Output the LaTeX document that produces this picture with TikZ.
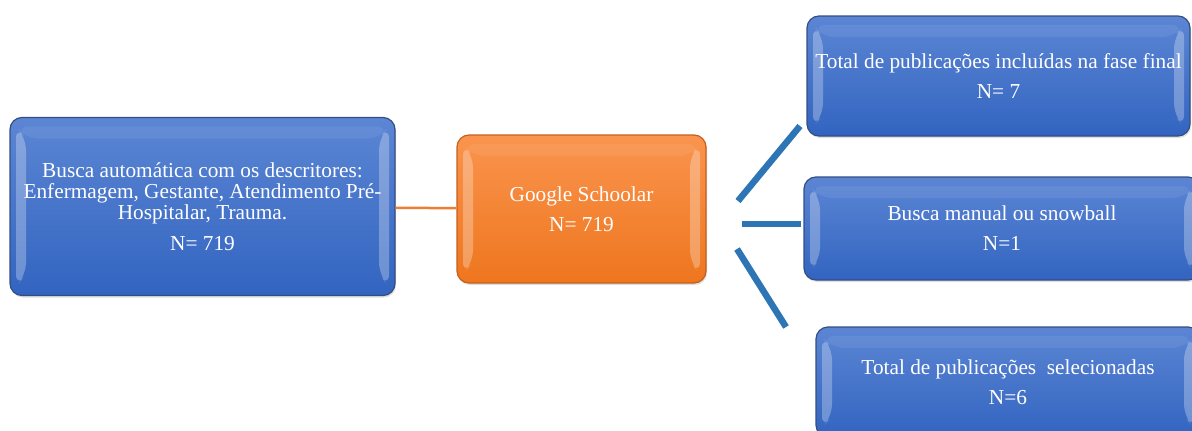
\documentclass[tikz,border=0pt]{standalone}
\usepackage{fontspec}
\setmainfont{Liberation Serif}
\usetikzlibrary{shadows}
\definecolor{boxtop}{RGB}{92,134,212}
\definecolor{boxbot}{RGB}{50,100,192}
\definecolor{boxedge}{RGB}{52,78,130}
\definecolor{ortop}{RGB}{250,148,78}
\definecolor{orbot}{RGB}{238,118,30}
\definecolor{oredge}{RGB}{196,96,30}
\definecolor{linkblue}{RGB}{46,117,182}
\definecolor{linkorange}{RGB}{237,125,49}
\tikzset{
  bevel/.style={path picture={
    \fill[white,opacity=0.28] ([xshift=6pt,yshift=-9pt]path picture bounding box.north west) -- ++(10pt,-12pt)
      -- ([xshift=16pt,yshift=21pt]path picture bounding box.south west) -- ++(-10pt,-12pt) -- cycle;
    \fill[white,opacity=0.28] ([xshift=-6pt,yshift=-9pt]path picture bounding box.north east) -- ++(-10pt,-12pt)
      -- ([xshift=-16pt,yshift=21pt]path picture bounding box.south east) -- ++(10pt,-12pt) -- cycle;
    \fill[white,opacity=0.07] ([xshift=6pt,yshift=-9pt]path picture bounding box.north west) -- ++(10pt,-12pt)
      -- ([xshift=-16pt,yshift=-21pt]path picture bounding box.north east) -- ++(10pt,12pt) -- cycle;
  }},
  bluebox/.style={rectangle, rounded corners=12pt, draw=boxedge, line width=1.2pt,
    top color=boxtop, bottom color=boxbot, bevel, text=white, align=center, inner sep=0pt,
    font=\fontsize{21.3}{21}\selectfont, drop shadow={opacity=0.25,shadow xshift=1pt,shadow yshift=-2pt}},
  orangebox/.style={bluebox, draw=oredge, top color=ortop, bottom color=orbot},
  blueline/.style={linkblue, line width=6.5pt},
  orangeline/.style={linkorange, line width=2.5pt}
}
\begin{document}
\begin{tikzpicture}[x=1pt,y=-1pt]
	\useasboundingbox (0,0) rectangle (1192,431);
	\node[bluebox, minimum width=385pt, minimum height=178pt] (busca) at (202.5,206.5)
		{Busca automática com os descritores:\\Enfermagem, Gestante, Atendimento Pré-\\Hospitalar, Trauma.\\[10pt]N= 719};
	\node[orangebox, minimum width=249pt, minimum height=148pt] (google) at (581.5,209)
		{Google Schoolar\\[9pt]N= 719};
	\node[bluebox, minimum width=383pt, minimum height=120pt] (incluidas) at (998.5,76)
		{Total de publicações incluídas na fase final\\[9pt]N= 7};
	\node[bluebox, minimum width=396pt, minimum height=103pt] (manual) at (1002,228.5)
		{Busca manual ou snowball\\[9pt]N=1};
	\node[bluebox, minimum width=384pt, minimum height=110pt] (selecionadas) at (1008,382)
		{Total de publicações\ \ selecionadas\\[9pt]N=6};
	\draw[orangeline] (busca) -- (google);
	% branches from the search engine box
	\coordinate (ta) at (738,201);
	\coordinate (tb) at (800,126);
	\coordinate (ma) at (742,224);
	\coordinate (mb) at (801,224);
	\coordinate (ba) at (737,249);
	\coordinate (bb) at (786,327);
	\draw[blueline] (ta) -- (tb);
	\draw[blueline] (ma) -- (mb);
	\draw[blueline] (ba) -- (bb);
\end{tikzpicture}
\end{document}
